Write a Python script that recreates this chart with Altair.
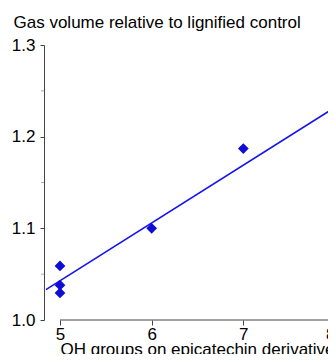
import altair as alt
import pandas as pd

# Data
oh_groups = [5, 5, 5, 6, 7, 8]
gas_volume = [1.059, 1.038, 1.0295, 1.100, 1.187, 1.222]
x_ticks = [5, 6, 7, 8]
y_ticks = [1.0, 1.1, 1.2, 1.3]
y_minor = [1.05, 1.15, 1.25]

df = pd.DataFrame({"oh": oh_groups, "gas": gas_volume})
minor_df = pd.DataFrame({"gas": y_minor})
axis_df = pd.DataFrame({"oh": [x_ticks[0]], "oh2": [x_ticks[-1]], "gas": [y_ticks[0]]})

FONT = "Liberation Sans"
x_scale = alt.Scale(domain=[4.8255, 8.0], range=[0, 291], nice=False, zero=False)
y_scale = alt.Scale(domain=[1.0, 1.3], nice=False, zero=False)

x_axis = alt.Axis(
    values=x_ticks, domain=False, grid=False, tickSize=5, labelPadding=1,
    labelFontSize=17, format="d",
    title="OH groups on epicatechin derivative", titleFontSize=17,
    titleFontWeight="normal", titleX=16, titleY=34, titleAlign="left",
    titleAnchor="start", titleBaseline="alphabetic",
)
y_axis = alt.Axis(
    values=y_ticks, domain=True, grid=False, tickSize=4, labelPadding=5,
    labelFontSize=17, format=".1f",
    title="Gas volume relative to lignified control", titleFontSize=17,
    titleFontWeight="normal", titleAngle=0, titleX=-31, titleY=-18,
    titleAlign="left", titleAnchor="start", titleBaseline="alphabetic",
)

points = alt.Chart(df).mark_point(
    shape="diamond", filled=True, size=115, color="#0d0dd6", opacity=1
).encode(
    x=alt.X("oh:Q", scale=x_scale, axis=x_axis),
    y=alt.Y("gas:Q", scale=y_scale, axis=y_axis),
)

fit = alt.Chart(df).transform_regression(
    "oh", "gas", extent=[4.847, 8.05]
).mark_line(color="#1414ee", strokeWidth=1.6).encode(
    x="oh:Q", y="gas:Q"
)

x_line = alt.Chart(axis_df).mark_rule(color="#444444", strokeWidth=1).encode(
    x="oh:Q", x2="oh2:Q", y="gas:Q"
)

minor = alt.Chart(minor_df).mark_rule(color="#aaaaaa", strokeWidth=1).encode(
    y="gas:Q", x=alt.value(-3), x2=alt.value(0)
)

chart = alt.layer(fit, points, x_line, minor).properties(
    width=284, height=275,
    autosize=alt.AutoSizeParams(type="none"),
    padding={"left": 36, "top": 37, "right": 0, "bottom": 34},
).configure_view(stroke=None).configure_axis(
    labelFont=FONT, titleFont=FONT, labelColor="#000000", titleColor="#000000",
    domainColor="#444444", tickColor="#444444",
)

chart.save("out.html", embed_options={"renderer": "svg", "actions": False})
